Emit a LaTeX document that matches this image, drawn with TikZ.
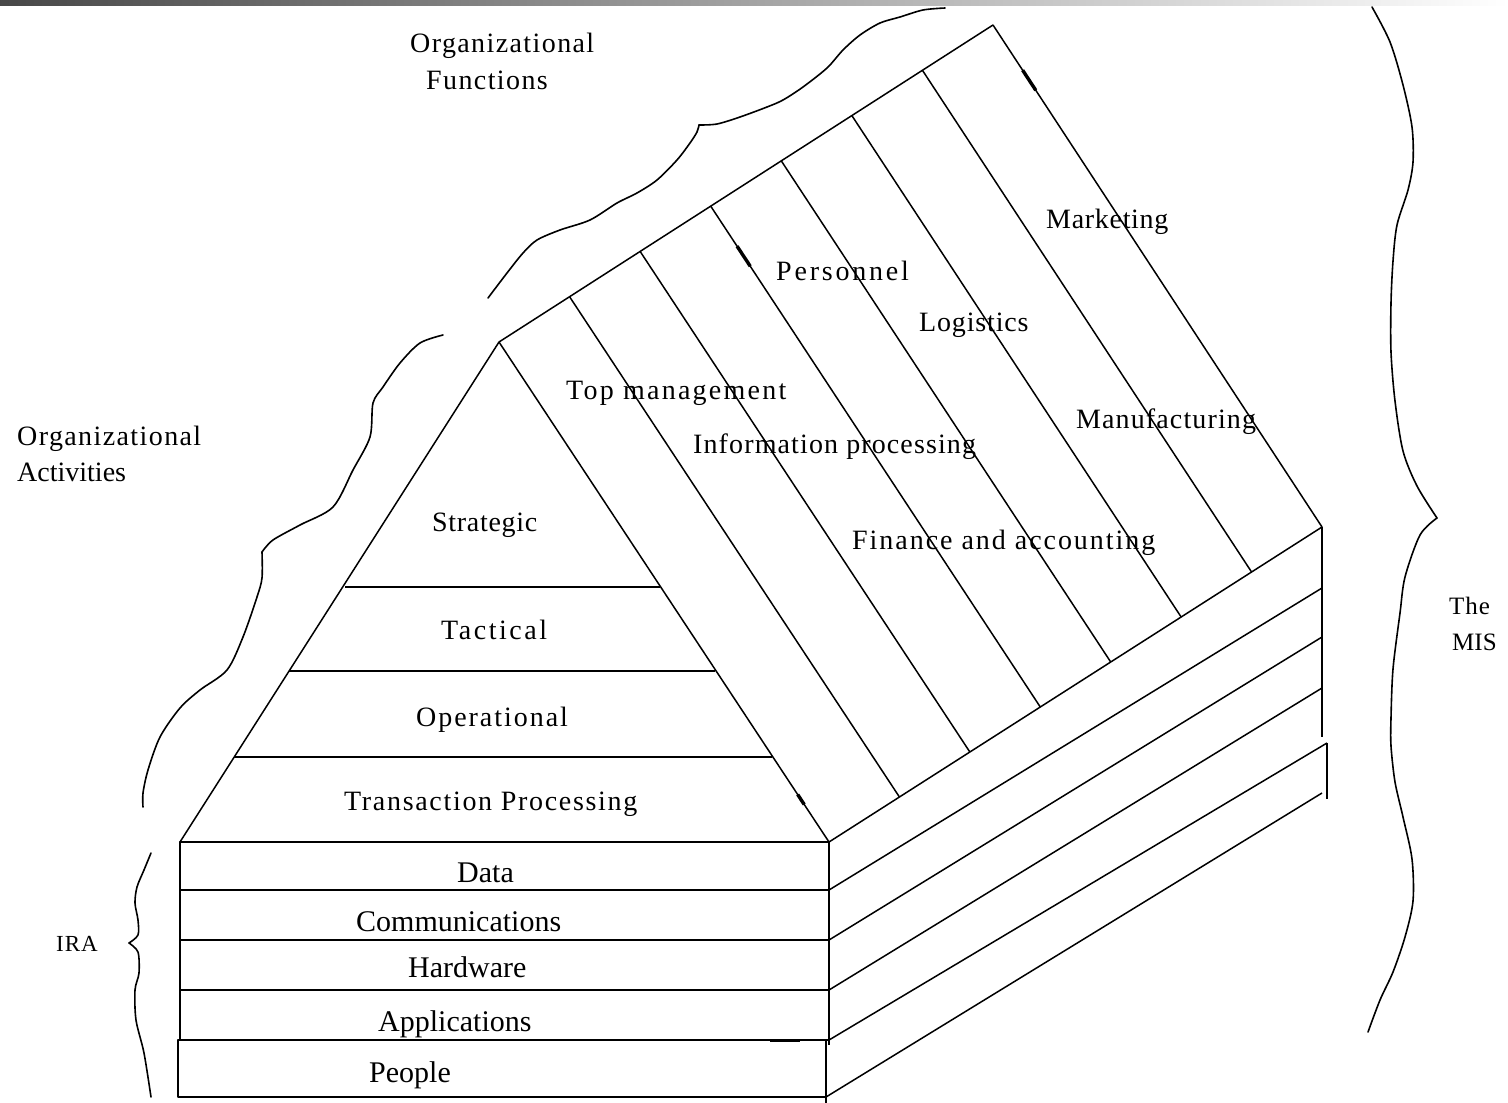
\documentclass[tikz,border=0pt]{standalone}
\usepackage{fontspec}
\setmainfont{Liberation Serif}
\usetikzlibrary{calc}
\newcommand\lsp[2]{{\addfontfeature{LetterSpace=#1}#2}}
\begin{document}
\begin{tikzpicture}[x=1pt,y=-1pt,
  ln/.style={line width=1.5pt, line join=round},
  wavy/.style={line width=1.6pt, line cap=round, line join=round},
  blob/.style={line width=3.4pt},
  lbl/.style={font=\fontsize{28}{32}\selectfont, inner sep=0pt, anchor=base west},
  ira/.style={font=\fontsize{30}{34}\selectfont, inner sep=0pt, anchor=base west}]

\useasboundingbox (0,0) rectangle (1508,1103);
\fill[white] (0,0) rectangle (1508,1103);
\shade[left color=black!72, right color=white] (0,0) rectangle (1508,5);

% key corners
\coordinate (apex) at (499,342);
\coordinate (bl) at (180,842);
\coordinate (br) at (829,842);
\coordinate (tr) at (993,25);
\coordinate (rr) at (1322,527);

% pyramid
\draw[ln] (apex) -- (bl) -- (br) -- cycle;
\draw[ln] (345,587) -- (660,587);
\draw[ln] (289,671) -- (715,671);
\draw[ln] (234,757) -- (772,757);

% roof with function stripes
\draw[ln] (apex) -- (tr) -- (rr) -- (br);
\foreach \i in {1,...,6}
  \draw[ln] ($(apex)!\i/7!(tr)$) -- ($(br)!\i/7!(rr)$);

% front IRA box
\draw[ln] (180,842) rectangle (829,1040);
\draw[ln] (180,890) -- (829,890);
\draw[ln] (180,940) -- (829,940);
\draw[ln] (180,990) -- (829,990);
\draw[ln] (829,1040) -- (829,1045);
\draw[ln] (178,1040) rectangle (826,1097);
\draw[ln] (826,1097) -- (826,1103);
\draw[line width=3pt] (770,1040) -- (800,1040);

% side of the slabs
\draw[ln] (829,890) -- (1322,588);
\draw[ln] (829,940) -- (1322,637);
\draw[ln] (829,990) -- (1322,688);
\draw[ln] (829,1040) -- (1327,743);
\draw[ln] (826,1097) -- (1322,793);
\draw[ln] (rr) -- (1322,737);
\draw[ln] (1327,743) -- (1327,799);

% small thick marks on lines
\draw[blob] ($(apex)!0.905!(br)$) -- ($(apex)!0.925!(br)$);
\draw[blob] ($(tr)!0.09!(rr)$) -- ($(tr)!0.13!(rr)$);
\draw[blob] ($(apex)!3/7!(tr)!0.08!($(br)!3/7!(rr)$)$) -- ($(apex)!3/7!(tr)!0.12!($(br)!3/7!(rr)$)$);

% Organizational Functions boundary
\draw[wavy] plot[smooth, tension=0.5] coordinates {(488,298) (507,273) (523,253) (537,240) (560,230) (590,220) (617,203) (637,193) (657,180) (677,160) (690,143) (697,132) (699,125)};
\draw[wavy] plot[smooth, tension=0.5] coordinates {(699,125) (717,124) (740,117) (767,107) (783,100) (803,87) (827,68) (843,50) (860,35) (880,23) (900,17) (923,10) (945,8)};

% Organizational Activities boundary
\draw[wavy] plot[smooth, tension=0.5] coordinates {(443,335) (420,343) (400,363) (383,387) (373,403) (370,437) (353,470) (333,507) (300,525) (273,540) (262,552)};
\draw[wavy] plot[smooth, tension=0.5] coordinates {(262,552) (262,578) (257,597) (243,637) (227,670) (200,690) (180,708) (160,737) (148,770) (143,793) (143,807)};

% IRA brace
\draw[wavy] plot[smooth, tension=0.5] coordinates {(151,853) (144,870) (137,887) (135,903) (138,920) (138,935) (129,943)};
\draw[wavy] plot[smooth, tension=0.5] coordinates {(129,943) (138,952) (139,973) (135,990) (136,1020) (144,1053) (151,1097)};

% MIS brace
\draw[wavy] plot[smooth, tension=0.5] coordinates {(1372,7) (1390,42) (1403,85) (1412,127) (1413,162) (1408,190) (1397,225) (1393,261) (1391,303) (1391,352) (1395,401) (1403,451) (1417,486) (1437,518)};
\draw[wavy] plot[smooth, tension=0.5] coordinates {(1437,518) (1420,535) (1405,577) (1400,613) (1393,669) (1391,718) (1391,746) (1395,782) (1403,817) (1412,859) (1413,901) (1405,937) (1393,972) (1380,1000) (1368,1032)};

% labels
\node[lbl] (of1) at (410,52) {\lsp{5}{Organizational}};
\node[lbl] (of2) at (426,89) {\lsp{5}{Functions}};
\node[lbl] (oa1) at (17,445) {\lsp{5}{Organizational}};
\node[lbl] (oa2) at (17,481) {\lsp{0}{Activities}};

\node[lbl] (strat) at (432,531) {\lsp{2.5}{Strategic}};
\node[lbl] (tact) at (441,639) {\lsp{9}{Tactical}};
\node[lbl] (oper) at (416,726) {\lsp{7}{Operational}};
\node[lbl] (trans) at (344,810) {\lsp{6}{Transaction Processing}};

\node[ira] (data) at (457,882) {Data};
\node[ira] (comm) at (356,931) {Communications};
\node[ira] (hard) at (408,977) {Hardware};
\node[ira] (appl) at (378,1031) {Applications};
\node[ira] (peop) at (369,1082) {People};
\node[lbl, font=\fontsize{23}{27}\selectfont] (ira) at (56,951) {\lsp{4}{IRA}};

\node[lbl] (top) at (566,399) {\lsp{8}{Top management}};
\node[lbl] (info) at (693,453) {\lsp{4}{Information processing}};
\node[lbl] (fin) at (852,549) {\lsp{7}{Finance and accounting}};
\node[lbl] (pers) at (776,280) {\lsp{10}{Personnel}};
\node[lbl] (logi) at (919,331) {\lsp{3}{Logistics}};
\node[lbl] (mark) at (1046,228) {\lsp{2.5}{Marketing}};
\node[lbl] (manu) at (1076,428) {\lsp{4}{Manufacturing}};

\node[lbl, font=\fontsize{25}{29}\selectfont] (the) at (1449,614) {\lsp{4}{The}};
\node[lbl, font=\fontsize{25}{29}\selectfont] (mis) at (1452,650) {\lsp{0}{MIS}};
\end{tikzpicture}
\end{document}
